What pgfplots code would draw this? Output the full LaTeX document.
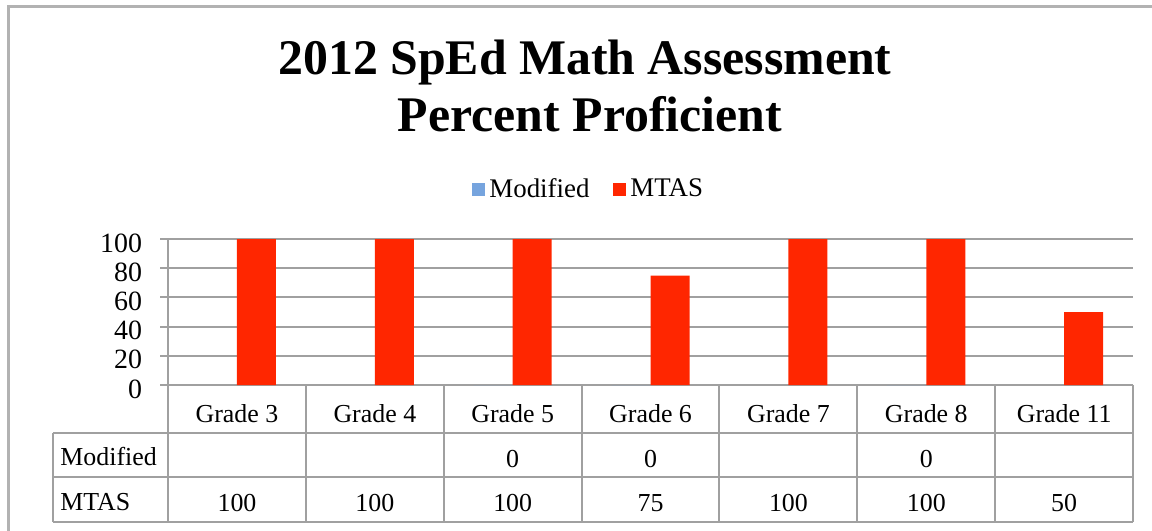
\documentclass[border=0pt]{standalone}
\usepackage{fontspec}
\setmainfont{Liberation Serif}
\usepackage{pgfplots}
\pgfplotsset{compat=1.18}
\definecolor{mtasred}{RGB}{255,38,0}
\definecolor{modblue}{RGB}{118,164,222}
\definecolor{linegray}{RGB}{160,160,160}
\definecolor{framegray}{RGB}{178,178,178}
\newcommand{\tabfont}{\fontsize{13}{15}\selectfont}
\begin{document}
\begin{tikzpicture}
% page laid out in pixel units of the reference (1px = 0.5bp, y down)
\begin{scope}[x=0.5bp,y=-0.5bp]
\path[use as bounding box] (0,0) rectangle (1152,531);
\draw[framegray, line width=1.5bp] (8,531) -- (8,7) -- (1152,7);
\node[font=\bfseries\fontsize{25}{30}\selectfont, anchor=base] at (585,75) {2012 SpEd Math Assessment};
\node[font=\bfseries\fontsize{25}{30}\selectfont, anchor=base] at (590,132) {Percent Proficient};
% data table under the plot
\foreach \k in {0,...,7}
  \draw[linegray, line width=1bp] ({168+\k*137.857},385) -- ({168+\k*137.857},522);
\draw[linegray, line width=1bp] (53,433) -- (1133,433) (53,477) -- (1133,477)
  (53,522) -- (1133,522) (53,433) -- (53,522);
\foreach \g [count=\i from 0] in {3,4,5,6,7,8,11}
  \node[anchor=base, font=\tabfont] at ({237+\i*137.857},422) {Grade \g};
\node[anchor=base west, inner sep=0, font=\tabfont] at (60,465) {Modified};
\node[anchor=base west, inner sep=0, font=\tabfont] at (60,510) {MTAS};
\foreach \i in {2,3,5}
  \node[anchor=base, font=\tabfont] at ({237+\i*137.857},467) {0};
\foreach \v [count=\i from 0] in {100,100,100,75,100,100,50}
  \node[anchor=base, font=\tabfont] at ({237+\i*137.857},511) {\v};
\end{scope}

\begin{axis}[
  at={(84bp,-192.5bp)}, anchor=south west,
  width=482.5bp, height=73bp, scale only axis,
  xmin=-0.5, xmax=6.5, ymin=0, ymax=100,
  ybar=0pt, bar width=0.283,
  xtick=\empty, ytick={0,20,...,100},
  ymajorgrids, grid style={linegray, line width=1bp},
  axis x line*=bottom, axis y line*=left,
  axis line style={linegray, line width=1bp, -},
  tick align=outside, major tick length=4bp,
  tick style={linegray, line width=1bp},
  yticklabel style={font=\fontsize{14}{16}\selectfont, xshift=-5.5bp, yshift=-2bp},
  /pgf/number format/assume math mode=true,
  legend style={at={(0.437,1.342)}, anchor=center, draw=none,
    font=\fontsize{13.5}{15}\selectfont, legend columns=2,
    /tikz/every even column/.append style={column sep=10bp}},
  legend image code/.code={\fill[#1] (0bp,-3.25bp) rectangle (6.5bp,3.25bp);},
]
\addplot[fill=modblue, draw=none] coordinates {(2,0) (3,0) (5,0)};
\addplot[fill=mtasred, draw=none] coordinates {(0,100) (1,100) (2,100) (3,75) (4,100) (5,100) (6,50)};
\legend{Modified, MTAS}
\end{axis}
\end{tikzpicture}
\end{document}
